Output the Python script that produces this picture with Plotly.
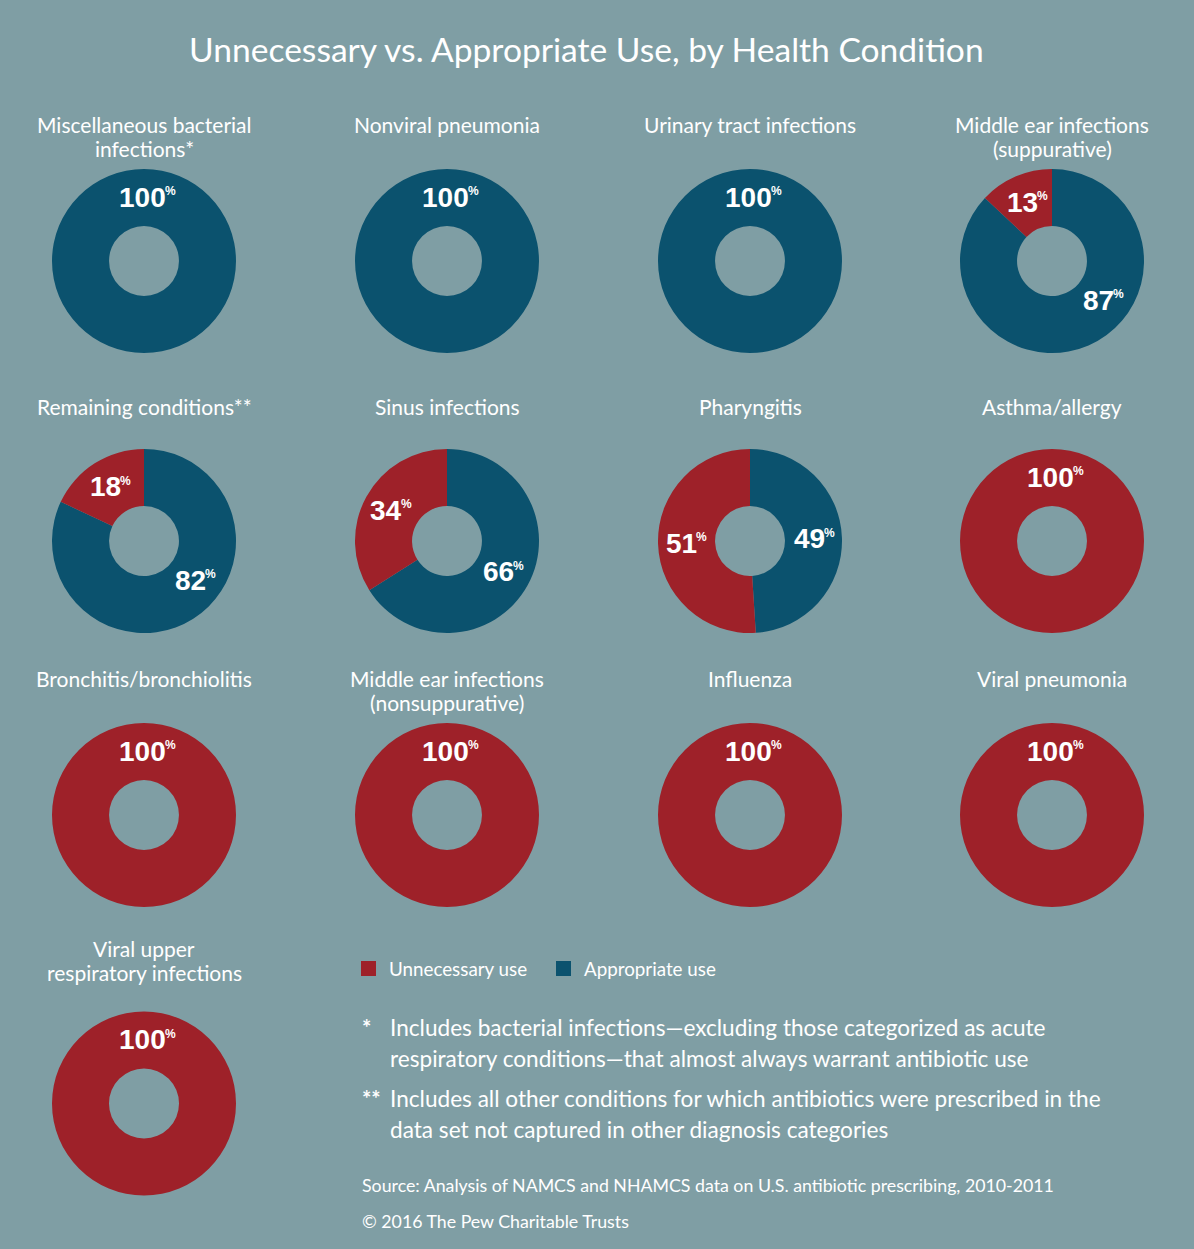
import math
import plotly.graph_objects as go

# ---------------- data ----------------
chart_title = "Unnecessary vs. Appropriate Use, by Health Condition"
conditions = [
    "Miscellaneous bacterial<br>infections*",
    "Nonviral pneumonia",
    "Urinary tract infections",
    "Middle ear infections<br>(suppurative)",
    "Remaining conditions**",
    "Sinus infections",
    "Pharyngitis",
    "Asthma/allergy",
    "Bronchitis/bronchiolitis",
    "Middle ear infections<br>(nonsuppurative)",
    "Influenza",
    "Viral pneumonia",
    "Viral upper<br>respiratory infections",
]
unnecessary_pct = [0, 0, 0, 13, 18, 34, 51, 100, 100, 100, 100, 100, 100]
appropriate_pct = [100, 100, 100, 87, 82, 66, 49, 0, 0, 0, 0, 0, 0]
series_names = ["Unnecessary use", "Appropriate use"]
footnote_marks = ["*", "**"]
footnotes = [
    ["Includes bacterial infections\u2014excluding those categorized as acute",
     "respiratory conditions\u2014that almost always warrant antibiotic use"],
    ["Includes all other conditions for which antibiotics were prescribed in the",
     "data set not captured in other diagnosis categories"],
]
source_text = "Source: Analysis of NAMCS and NHAMCS data on U.S. antibiotic prescribing, 2010-2011"
credit_text = "\u00a9 2016 The Pew Charitable Trusts"

# ---------------- styling / layout ----------------
W, H = 1194, 1249
BG = "#7f9ea4"
RED = "#9e2129"
BLUE = "#0b526e"
WHITE = "#ffffff"
TXT_FONT = "Lato, 'Open Sans', sans-serif"
NUM_FONT = "'Liberation Sans', Arial, sans-serif"
NUM_SIZE = 28
PCT_SIZE = 12

col_cx = [144, 447, 750, 1052]
row_cy = [261, 541, 815, 1103.5]
title_y = [124.5, 406.5, 678.5, 948.5]
R = 92
HOLE = 0.38
LABEL_R = 64
colors = [RED, BLUE]


def px(x):
    return x / W


def py(y):
    return 1 - y / H


fig = go.Figure()
annotations = []
shapes = []

for i, name in enumerate(conditions):
    r, c = divmod(i, 4)
    cx, cy = col_cx[c], row_cy[r]
    vals = [unnecessary_pct[i], appropriate_pct[i]]
    # appropriate slice runs clockwise from 12 o'clock, unnecessary fills the rest
    fig.add_trace(go.Pie(
        labels=series_names[::-1], values=vals[::-1], sort=False,
        direction="clockwise", rotation=0, hole=HOLE,
        marker=dict(colors=colors[::-1], line=dict(width=0)),
        textinfo="none", hoverinfo="label+percent", showlegend=False,
        domain=dict(x=[px(cx - R), px(cx + R)], y=[py(cy + R), py(cy - R)]),
    ))
    # value labels (number + small raised percent sign)
    for k, v in enumerate(vals):
        if v <= 0:
            continue
        if v >= 100:
            theta = 3
        elif k == 0:
            theta = -v * 1.8
        else:
            theta = min(v * 1.8, 128)
        t = math.radians(theta)
        lx = cx + LABEL_R * math.sin(t)
        ly = cy - LABEL_R * math.cos(t)
        num_w = len(str(v)) * 0.556 * NUM_SIZE
        pct_w = 0.889 * PCT_SIZE
        split = lx + (num_w - pct_w) / 2
        annotations.append(dict(
            x=px(split), y=py(ly), xref="paper", yref="paper",
            text=str(v), showarrow=False, xanchor="right", yanchor="middle",
            borderpad=0, borderwidth=0, xshift=1,
            font=dict(family=NUM_FONT, size=NUM_SIZE, color=WHITE, weight="bold"),
        ))
        annotations.append(dict(
            x=px(split), y=py(ly), xref="paper", yref="paper",
            text="%", showarrow=False, xanchor="left", yanchor="middle",
            borderpad=0, borderwidth=0, yshift=6, xshift=0,
            font=dict(family=NUM_FONT, size=PCT_SIZE, color=WHITE, weight="bold"),
        ))
    # condition title
    for j, line in enumerate(name.split("<br>")):
        annotations.append(dict(
            x=px(cx), y=py(title_y[r] + 24 * j), xref="paper", yref="paper",
            text=line, showarrow=False, xanchor="center", yanchor="middle",
            font=dict(family=TXT_FONT, size=21, color=WHITE),
        ))

# main title
annotations.append(dict(
    x=px(586), y=py(49), xref="paper", yref="paper", text=chart_title,
    showarrow=False, xanchor="center", yanchor="middle",
    font=dict(family=TXT_FONT, size=33.6, color=WHITE),
))

# legend
leg_x = [361, 556]
for k, nm in enumerate(series_names):
    shapes.append(dict(type="rect", xref="paper", yref="paper",
                       x0=px(leg_x[k]), x1=px(leg_x[k] + 15),
                       y0=py(976), y1=py(961),
                       fillcolor=colors[k], line=dict(width=0)))
    annotations.append(dict(
        x=px(leg_x[k] + 26), y=py(968), xref="paper", yref="paper", text=nm,
        showarrow=False, xanchor="left", yanchor="middle",
        font=dict(family=TXT_FONT, size=18.8, color=WHITE),
    ))

# footnotes
fn_y0 = [1027, 1098]
for k, mark in enumerate(footnote_marks):
    annotations.append(dict(
        x=px(360), y=py(fn_y0[k]), xref="paper", yref="paper", text=mark,
        showarrow=False, xanchor="left", yanchor="middle",
        font=dict(family=TXT_FONT, size=22, color=WHITE, weight="bold"),
    ))
    for j, line in enumerate(footnotes[k]):
        annotations.append(dict(
            x=px(388), y=py(fn_y0[k] + 31 * j), xref="paper", yref="paper",
            text=line, showarrow=False, xanchor="left", yanchor="middle",
            font=dict(family=TXT_FONT, size=22.6, color=WHITE),
        ))

annotations.append(dict(
    x=px(360), y=py(1185), xref="paper", yref="paper", text=source_text,
    showarrow=False, xanchor="left", yanchor="middle",
    font=dict(family=TXT_FONT, size=17.75, color=WHITE),
))
annotations.append(dict(
    x=px(360), y=py(1221), xref="paper", yref="paper", text=credit_text,
    showarrow=False, xanchor="left", yanchor="middle",
    font=dict(family=TXT_FONT, size=17.75, color=WHITE),
))

fig.update_layout(
    width=W, height=H, margin=dict(l=0, r=0, t=0, b=0),
    paper_bgcolor=BG, plot_bgcolor=BG,
    annotations=annotations, shapes=shapes, showlegend=False,
)

fig.write_html("out.html")
